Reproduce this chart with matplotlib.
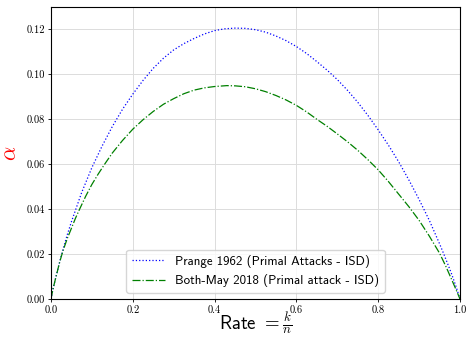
import matplotlib
matplotlib.use("Agg")
import matplotlib.pyplot as plt

plt.rcParams['mathtext.fontset'] = 'cm'
plt.rcParams['axes.formatter.use_mathtext'] = True

# values
rate_prange = [0, 0.005, 0.01, 0.02, 0.03, 0.04, 0.05, 0.075, 0.1, 0.125, 0.15, 0.175,
               0.2, 0.225, 0.25, 0.275, 0.3, 0.325, 0.35, 0.375, 0.4, 0.425, 0.45,
               0.475, 0.5, 0.525, 0.55, 0.575, 0.6, 0.625, 0.65, 0.675, 0.7, 0.725,
               0.75, 0.775, 0.8, 0.825, 0.85, 0.875, 0.9, 0.925, 0.95, 0.96, 0.97,
               0.98, 0.99, 1.0]
alpha_prange = [0, 0.0045, 0.0083, 0.0157, 0.0224, 0.0287, 0.0344, 0.0474, 0.0585,
                0.0681, 0.0768, 0.0845, 0.0912, 0.0973, 0.1027, 0.1072, 0.1109,
                0.1137, 0.1160, 0.1180, 0.1195, 0.1203, 0.1206, 0.1205, 0.1199,
                0.1188, 0.1171, 0.1150, 0.1124, 0.1093, 0.1057, 0.1019, 0.0977,
                0.0929, 0.0876, 0.0817, 0.0753, 0.0685, 0.0611, 0.0530, 0.0443,
                0.0350, 0.0246, 0.0202, 0.0156, 0.0109, 0.0057, 0]

rate_bm = [0, 0.005, 0.01, 0.02, 0.025, 0.03, 0.04, 0.05, 0.06, 0.07, 0.085, 0.1,
           0.115, 0.13, 0.15, 0.175, 0.2, 0.225, 0.25, 0.275, 0.3, 0.325, 0.35,
           0.375, 0.4, 0.43, 0.45, 0.475, 0.5, 0.525, 0.55, 0.575, 0.6, 0.625,
           0.65, 0.675, 0.7, 0.725, 0.75, 0.775, 0.8, 0.825, 0.85, 0.875, 0.9,
           0.925, 0.95, 0.965, 0.98, 0.99, 1.0]
alpha_bm = [0, 0.0045, 0.0082, 0.0155, 0.0188, 0.0218, 0.0270, 0.0315, 0.0360,
            0.0400, 0.0458, 0.0510, 0.0555, 0.0597, 0.0650, 0.0706, 0.0756,
            0.0798, 0.0835, 0.0867, 0.0892, 0.0914, 0.0930, 0.0940, 0.0946,
            0.0950, 0.0949, 0.0945, 0.0936, 0.0923, 0.0906, 0.0886, 0.0862,
            0.0833, 0.0800, 0.0769, 0.0735, 0.0700, 0.0662, 0.0620, 0.0575,
            0.0523, 0.0467, 0.0411, 0.0350, 0.0280, 0.0204, 0.0147, 0.0085,
            0.0043, 0]

labels = ['Prange 1962 (Primal Attacks - ISD)', 'Both-May 2018 (Primal attack - ISD)']

fig = plt.figure(figsize=(4.69, 3.37), dpi=100)
ax = fig.add_axes([0.1087, 0.1128, 0.8721, 0.8664])

ax.plot(rate_prange, alpha_prange, linestyle=':', color='blue', linewidth=0.9, label=labels[0])
ax.plot(rate_bm, alpha_bm, linestyle='-.', color='green', linewidth=0.9, label=labels[1])

ax.set_xlim(0, 1)
ax.set_ylim(0, 0.13)
ax.set_xticks([0, 0.2, 0.4, 0.6, 0.8, 1.0])
ax.set_yticks([0, 0.02, 0.04, 0.06, 0.08, 0.10, 0.12])
ax.set_xticklabels(['0.0', '0.2', '0.4', '0.6', '0.8', '1.0'])
ax.set_yticklabels(['0.00', '0.02', '0.04', '0.06', '0.08', '0.10', '0.12'])
for t in ax.get_xticklabels() + ax.get_yticklabels():
    t.set_fontfamily('cmr10')
    t.set_fontsize(7.5)
ax.tick_params(length=2.5, width=0.6, pad=2)
ax.grid(True, color='#dcdcdc', linewidth=0.7)
ax.set_axisbelow(True)

ax.set_xlabel(r'Rate $=\frac{k}{n}$', fontfamily='cmss10', fontsize=13.5, labelpad=-3)
ax.set_ylabel(r'$\alpha$', color='red', fontsize=16, labelpad=4)

ax.legend(loc='lower center', prop={'family': 'cmss10', 'size': 9.3},
          handlelength=2.6, borderaxespad=0.5, framealpha=0.8)

fig.savefig('out.png', dpi=100)
